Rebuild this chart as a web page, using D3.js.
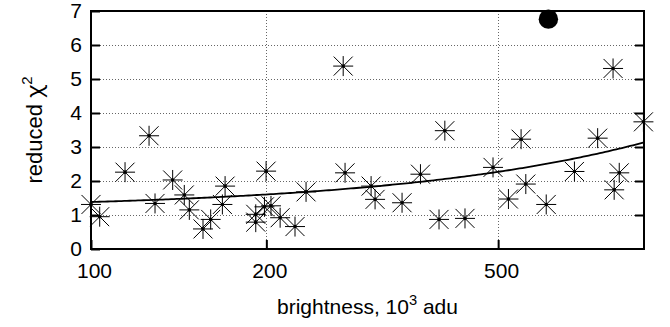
<!DOCTYPE html>
<html>
<head>
<meta charset="utf-8">
<script src="https://cdn.jsdelivr.net/npm/d3@7"></script>
<style>
  html, body { margin: 0; padding: 0; background: #fff; }
  svg { display: block; }
  text { font-family: "Liberation Sans", Arial, Helvetica, sans-serif; fill: #000; }
  .greek { font-family: "Noto Sans", "DejaVu Sans", sans-serif; }
</style>
</head>
<body>
<svg id="chart" width="670" height="327"></svg>
<script>
// Star brightness (10^3 adu) and reduced chi-square of each fit
const brightness = [
  100, 103.5, 114.4, 125.8, 128.8, 138.1, 144.6, 147.5, 155.7, 160.5,
  168.1, 169.9, 191.8, 191.8, 198.5, 199.8, 203.7, 211.2, 224, 234,
  271, 273, 302.6, 307.4, 342, 367.8, 395.8, 405, 438.6, 490,
  520.8, 547.5, 557.8, 604.7, 676, 741, 787.5, 791, 807, 888
];
const chi2 = [
  1.31, 0.95, 2.26, 3.33, 1.34, 2.03, 1.59, 1.15, 0.59, 0.87,
  1.31, 1.85, 1.02, 0.79, 1.24, 2.29, 1.27, 0.92, 0.66, 1.68,
  5.38, 2.24, 1.85, 1.46, 1.36, 2.20, 0.87, 3.48, 0.90, 2.40,
  1.47, 3.23, 1.91, 1.31, 2.28, 3.26, 5.31, 1.74, 2.24, 3.74
];

// Rejected star, drawn as a filled disc
const outlierBrightness = [609.9];
const outlierChi2 = [6.76];

// Linear trend chi2 = a + b * brightness
const fitIntercept = 1.16;
const fitSlope = 0.00222;

// Axis ranges and ticks
const xDomain = [100, 890];
const yDomain = [0, 7];
const xTicks = [100, 200, 500];
const yTicks = [0, 1, 2, 3, 4, 5, 6, 7];
const yGrid = [1, 2, 3, 4, 5, 6];
const xGrid = [200, 500];

const svg = d3.select("#chart");
const margin = { left: 91, top: 11, right: 26, bottom: 78 };
const W = 670, H = 327;
const pw = W - margin.left - margin.right;
const ph = H - margin.top - margin.bottom;

const x = d3.scaleLog().domain(xDomain).range([margin.left, margin.left + pw]);
const y = d3.scaleLinear().domain(yDomain).range([margin.top + ph, margin.top]);

const fontSize = 21;
const tickLen = 9;

// Dotted grid
const grid = svg.append("g")
  .attr("stroke", "#666").attr("stroke-width", 1)
  .attr("stroke-dasharray", "1,2").attr("fill", "none");
grid.selectAll("line.h").data(yGrid).join("line")
  .attr("class", "h")
  .attr("x1", margin.left + tickLen).attr("x2", margin.left + pw - tickLen)
  .attr("y1", d => y(d) + 0.5).attr("y2", d => y(d) + 0.5);
grid.selectAll("line.v").data(xGrid).join("line")
  .attr("class", "v")
  .attr("x1", d => Math.round(x(d)) + 0.5).attr("x2", d => Math.round(x(d)) + 0.5)
  .attr("y1", margin.top).attr("y2", margin.top + ph - tickLen);

// Left axis: ticks pointing inward, labels to the left
const yAxisL = d3.axisLeft(y).tickValues(yTicks).tickFormat(d3.format("d"))
  .tickSizeInner(-tickLen).tickSizeOuter(0).tickPadding(9);
const gL = svg.append("g").attr("transform", `translate(${margin.left},0)`).call(yAxisL);
gL.select(".domain").remove();
gL.selectAll(".tick line").attr("stroke", "#000").attr("stroke-width", 2);
gL.selectAll(".tick text").attr("font-size", fontSize).attr("font-family", null);

// Right axis: mirrored ticks only
const yAxisR = d3.axisRight(y).tickValues(yGrid).tickSizeInner(-tickLen).tickSizeOuter(0).tickFormat("");
const gR = svg.append("g").attr("transform", `translate(${margin.left + pw},0)`).call(yAxisR);
gR.select(".domain").remove();
gR.selectAll(".tick line").attr("stroke", "#000").attr("stroke-width", 2);

// Bottom axis
const xAxis = d3.axisBottom(x).tickValues(xTicks).tickFormat(d3.format("d"))
  .tickSizeInner(-tickLen).tickSizeOuter(0).tickPadding(14);
const gB = svg.append("g").attr("transform", `translate(0,${margin.top + ph})`).call(xAxis);
gB.select(".domain").remove();
gB.selectAll(".tick line").attr("stroke", "#000").attr("stroke-width", 2);
gB.selectAll(".tick text").attr("font-size", fontSize).attr("font-family", null)
  .attr("dx", 3);

// Trend line
const fitXs = d3.range(0, 201).map(i => xDomain[0] * Math.pow(xDomain[1] / xDomain[0], i / 200));
const line = d3.line().x(d => x(d)).y(d => y(fitIntercept + fitSlope * d));
svg.append("path").datum(fitXs)
  .attr("d", line).attr("fill", "none")
  .attr("stroke", "#000").attr("stroke-width", 1.8);

// Star markers (plus + cross) with a dot in the middle
const pts = brightness.map((b, i) => ({ b, c: chi2[i] }));
const s = 10, sd = 9.5;
const star = `M${-s},0H${s}M0,${-s}V${s}M${-sd},${-sd}L${sd},${sd}M${-sd},${sd}L${sd},${-sd}`;
const mk = svg.append("g").selectAll("g").data(pts).join("g")
  .attr("transform", d => `translate(${x(d.b)},${y(d.c)})`);
mk.append("path").attr("d", star).attr("stroke", "#000").attr("stroke-width", 1).attr("fill", "none");
mk.append("circle").attr("r", 1.8).attr("fill", "#000");

// Outlier
svg.append("g").selectAll("circle").data(outlierBrightness).join("circle")
  .attr("cx", d => x(d)).attr("cy", (d, i) => y(outlierChi2[i]))
  .attr("r", 9.7).attr("fill", "#000");

// Frame
svg.append("rect")
  .attr("x", margin.left).attr("y", margin.top)
  .attr("width", pw).attr("height", ph)
  .attr("fill", "none").attr("stroke", "#000").attr("stroke-width", 2);

// Axis titles
const xt = svg.append("text")
  .attr("x", margin.left + pw / 2).attr("y", 314)
  .attr("text-anchor", "middle").attr("font-size", fontSize);
xt.append("tspan").text("brightness, 10");
xt.append("tspan").attr("font-size", fontSize * 0.7).attr("dy", -9).text("3");
xt.append("tspan").attr("dy", 9).text(" adu");

const yt = svg.append("text")
  .attr("transform", `translate(42,${margin.top + ph / 2}) rotate(-90)`)
  .attr("text-anchor", "middle").attr("font-size", 22);
yt.append("tspan").text("reduced ");
yt.append("tspan").attr("class", "greek").text("χ");
yt.append("tspan").attr("font-size", 15).attr("dy", -10).text("2");
</script>
</body>
</html>
